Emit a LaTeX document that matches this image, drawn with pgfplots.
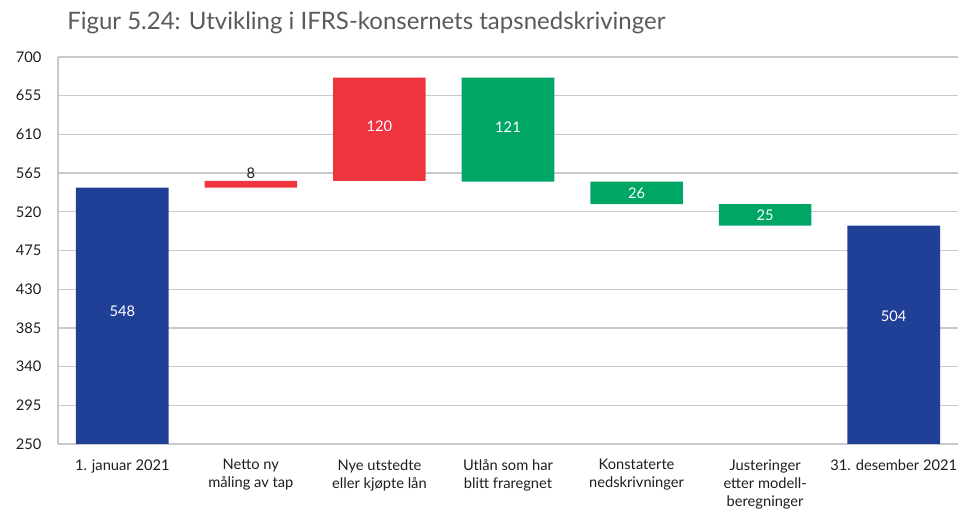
\documentclass[border=0pt]{standalone}
\usepackage{pgfplots}
\pgfplotsset{compat=1.18}
\usepackage{fontspec}
\setmainfont{Lato}
\definecolor{nbblue}{RGB}{32,64,152}
\definecolor{nbred}{RGB}{238,52,63}
\definecolor{nbgreen}{RGB}{0,166,101}
\definecolor{gridgray}{RGB}{200,200,205}
\definecolor{titlegray}{RGB}{90,90,90}
\definecolor{txt}{RGB}{30,30,30}
\begin{document}
\begin{tikzpicture}
\useasboundingbox (-43.5pt,-48.75pt) rectangle (676.5pt,333pt);
\node[anchor=base west, text=titlegray, inner sep=0pt, font=\fontsize{18}{21}\selectfont] at (6.75pt,310.5pt) {Figur 5.24: Utvikling i IFRS-konsernets tapsnedskrivinger};
\begin{axis}[
  at={(0,0)}, anchor=south west,
  scale only axis, width=675pt, height=290.25pt,
  ybar stacked, bar width=0.72,
  xmin=-0.5, xmax=6.5, ymin=250, ymax=700,
  ytick={250,295,...,700},
  ymajorgrids, grid style={draw=gridgray, line width=1pt},
  axis x line*=bottom, axis y line*=left,
  axis line style={draw=gridgray, line width=1.2pt, -},
  y tick style={draw=none},
  major tick length=0pt,
  /pgf/number format/assume math mode=true,
  yticklabel style={font=\fontsize{11}{13}\selectfont, text=txt, anchor=east, xshift=-9pt},
  xtick={0,...,6},
  xticklabels={{1. januar 2021},{Netto ny\\måling av tap},{Nye utstedte\\eller kjøpte lån},{Utlån som har\\blitt fraregnet},{Konstaterte\\nedskrivninger},{Justeringer\\etter modell-\\beregninger},{31. desember 2021}},
  xticklabel style={font=\fontsize{11}{13.5}\selectfont, text=txt, align=center, anchor=north, yshift=-8pt},
  x tick style={draw=none},
  extra x ticks={0.5,1.5,2.5,3.5,4.5,5.5},
  extra x tick labels={},
  extra x tick style={major tick length=7.5pt, tick align=inside, tick style={draw=gridgray, line width=1pt}},
]
\addplot[draw=none, fill=none] coordinates {(0,0) (1,548) (2,556) (3,555) (4,529) (5,504) (6,0)};
\addplot[draw=none, fill=nbblue] coordinates {(0,548) (1,0) (2,0) (3,0) (4,0) (5,0) (6,504)};
\addplot[draw=none, fill=nbred] coordinates {(0,0) (1,8) (2,120) (3,0) (4,0) (5,0) (6,0)};
\addplot[draw=none, fill=nbgreen] coordinates {(0,0) (1,0) (2,0) (3,121) (4,26) (5,25) (6,0)};
\coordinate (l0) at (axis cs:0,404);
\coordinate (l1) at (axis cs:1,557);
\coordinate (l2) at (axis cs:2,620);
\coordinate (l3) at (axis cs:3,618);
\coordinate (l4) at (axis cs:4,542);
\coordinate (l5) at (axis cs:5,516.5);
\coordinate (l6) at (axis cs:6,398);
\end{axis}
\begin{scope}[every node/.style={font=\fontsize{11}{13}\selectfont}]
\node[text=white] at (l0) {548};
\node[text=txt, anchor=south, inner sep=1pt] at (l1) {8};
\node[text=white] at (l2) {120};
\node[text=white] at (l3) {121};
\node[text=white] at (l4) {26};
\node[text=white] at (l5) {25};
\node[text=white] at (l6) {504};
\end{scope}
\end{tikzpicture}
\end{document}
